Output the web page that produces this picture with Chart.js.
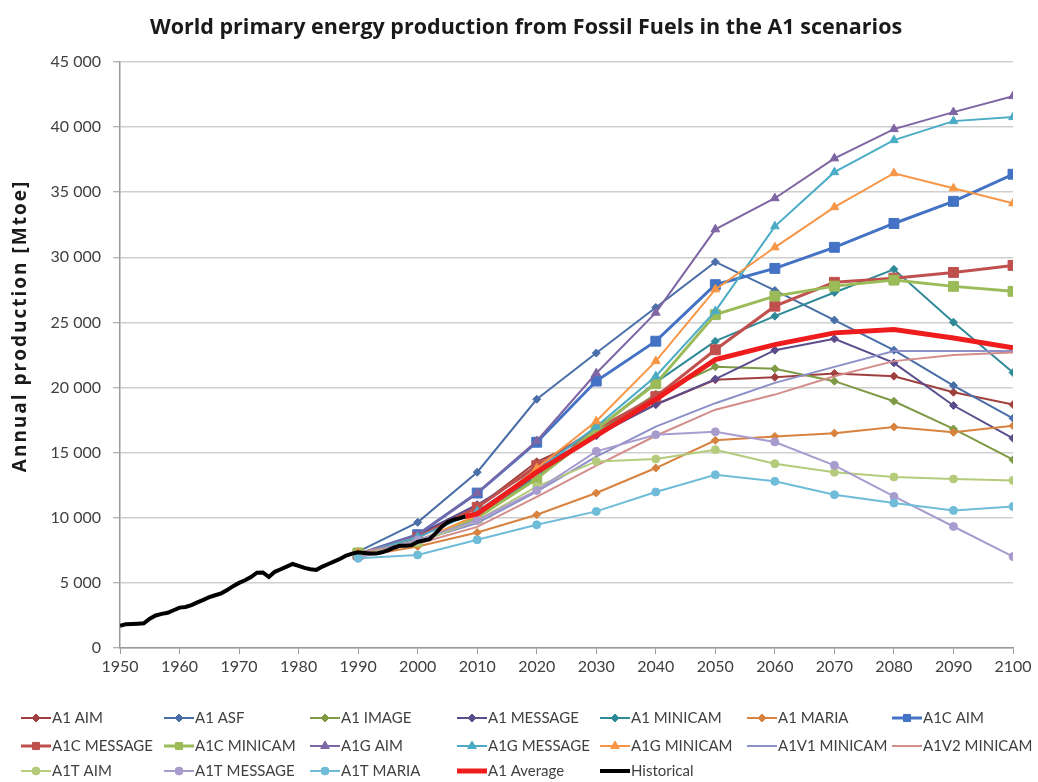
<!DOCTYPE html>
<html>
<head>
<meta charset="utf-8">
<script src="https://cdn.jsdelivr.net/npm/chart.js@4.4.1/dist/chart.umd.min.js"></script>
<style>
html,body{margin:0;padding:0;background:#fff;}
#wrap{width:1038px;height:782px;position:relative;}
</style>
</head>
<body>
<div id="wrap"><canvas id="c" width="1038" height="782"></canvas></div>
<script>
// ---- data ----
const chartTitle = "World primary energy production from Fossil Fuels in the A1 scenarios";
const yAxisTitle = "Annual production [Mtoe]";
const scenarioYears = [1990, 2000, 2010, 2020, 2030, 2040, 2050, 2060, 2070, 2080, 2090, 2100];

const a1Aim        = [7200, 8600, 10800, 14300, 16400, 18700, 20600, 20790, 21080, 20870, 19640, 18690];
const a1Asf        = [7400, 9650, 13500, 19100, 22650, 26150, 29650, 27460, 25180, 22870, 20150, 17640];
const a1Image      = [7100, 8100, 10000, 13000, 16500, 19500, 21600, 21440, 20490, 18950, 16820, 14460];
const a1Message    = [7200, 8700, 11000, 13800, 16300, 18700, 20650, 22870, 23740, 21900, 18620, 16100];
const a1Minicam    = [7300, 8200, 10000, 13200, 16800, 20400, 23560, 25480, 27300, 29080, 25020, 21150];
const a1Maria      = [7000, 7800, 8870, 10230, 11900, 13820, 15950, 16250, 16500, 16970, 16560, 17070];
const a1cAim       = [7200, 8700, 11900, 15800, 20500, 23560, 27900, 29150, 30770, 32600, 34300, 36380];
const a1cMessage   = [7200, 8500, 10800, 14000, 16800, 19300, 22900, 26250, 28080, 28400, 28840, 29380];
const a1cMinicam   = [7300, 8200, 10000, 13000, 16800, 20300, 25600, 27020, 27790, 28250, 27770, 27390];
const a1gAim       = [7200, 8700, 11900, 15900, 21100, 25750, 32150, 34540, 37600, 39850, 41150, 42380];
const a1gMessage   = [7200, 8500, 10500, 13600, 17000, 20870, 25870, 32380, 36540, 39000, 40460, 40770];
const a1gMinicam   = [7300, 8200, 10200, 13800, 17410, 22030, 27540, 30770, 33850, 36460, 35300, 34150];
const a1v1Minicam  = [7300, 8200, 9600, 12000, 14700, 17000, 18800, 20360, 21590, 22800, 22800, 22800];
const a1v2Minicam  = [7300, 8000, 9300, 11600, 14000, 16300, 18300, 19460, 20870, 22030, 22500, 22700];
const a1tAim       = [7100, 8100, 9800, 12400, 14330, 14510, 15230, 14150, 13490, 13130, 12980, 12870];
const a1tMessage   = [6900, 8300, 9800, 12100, 15100, 16380, 16600, 15820, 14030, 11640, 9330, 7020];
const a1tMaria     = [6900, 7150, 8310, 9460, 10490, 11980, 13300, 12800, 11770, 11130, 10560, 10870];

const averageYears = [2008, 2010, 2020, 2030, 2040, 2050, 2060, 2070, 2080, 2090, 2100];
const a1Average    = [10100, 10300, 13500, 16300, 19100, 22150, 23300, 24200, 24460, 23800, 23050];

const historicalStartYear = 1950;
const historical = [1700, 1830, 1850, 1870, 1900, 2250, 2500, 2620, 2700, 2900,
                    3100, 3150, 3300, 3500, 3700, 3900, 4050, 4200, 4450, 4750,
                    5000, 5200, 5450, 5780, 5800, 5450, 5850, 6050, 6250, 6450,
                    6300, 6150, 6050, 6000, 6250, 6450, 6650, 6850, 7100, 7250,
                    7350, 7300, 7250, 7250, 7350, 7500, 7700, 7850, 7850, 7900,
                    8150, 8250, 8350, 8800, 9300, 9650, 9850, 9950, 10100];

const yTicks = [0, 5000, 10000, 15000, 20000, 25000, 30000, 35000, 40000, 45000];
const xTicks = [1950, 1960, 1970, 1980, 1990, 2000, 2010, 2020, 2030, 2040, 2050, 2060, 2070, 2080, 2090, 2100];

// ---- series definitions ----
const series = [
  ["A1 AIM", a1Aim, "#a0403e", "rectRot", 4, 2],
  ["A1 ASF", a1Asf, "#4a6fa8", "rectRot", 4, 2],
  ["A1 IMAGE", a1Image, "#7f9a45", "rectRot", 4, 2],
  ["A1 MESSAGE", a1Message, "#5b4c8c", "rectRot", 4, 2],
  ["A1 MINICAM", a1Minicam, "#2f8a98", "rectRot", 4, 2],
  ["A1 MARIA", a1Maria, "#d7823e", "rectRot", 4, 2],
  ["A1C AIM", a1cAim, "#4472c4", "rect", 7, 3],
  ["A1C MESSAGE", a1cMessage, "#c0504d", "rect", 7, 3],
  ["A1C MINICAM", a1cMinicam, "#9bbb59", "rect", 7, 3],
  ["A1G AIM", a1gAim, "#7e65a3", "triangle", 5, 2],
  ["A1G MESSAGE", a1gMessage, "#4bacc6", "triangle", 5, 2],
  ["A1G MINICAM", a1gMinicam, "#f79646", "triangle", 5, 2],
  ["A1V1 MINICAM", a1v1Minicam, "#8c8fc8", false, 0, 2],
  ["A1V2 MINICAM", a1v2Minicam, "#d38d8b", false, 0, 2],
  ["A1T AIM", a1tAim, "#b5cb7c", "circle", 4, 2],
  ["A1T MESSAGE", a1tMessage, "#a89ccf", "circle", 4, 2],
  ["A1T MARIA", a1tMaria, "#6fbcd8", "circle", 4, 2]
];

const datasets = series.map((s, i) => ({
  label: s[0],
  data: scenarioYears.map((x, j) => ({x: x, y: s[1][j]})),
  borderColor: s[2],
  backgroundColor: s[2],
  pointStyle: s[3] || 'circle',
  pointRadius: s[3] ? s[4] : 0,
  pointBorderWidth: 1,
  borderWidth: s[5],
  tension: 0,
  order: 100 - i
}));
datasets.push({
  label: "A1 Average",
  data: averageYears.map((x, j) => ({x: x, y: a1Average[j]})),
  borderColor: "#ee1c1c", backgroundColor: "#ee1c1c",
  pointRadius: 0, borderWidth: 5, tension: 0, order: 1, legendLine: true
});
datasets.push({
  label: "Historical",
  data: historical.map((v, k) => ({x: historicalStartYear + k, y: v})),
  borderColor: "#000000", backgroundColor: "#000000",
  pointRadius: 0, borderWidth: 4, tension: 0, order: 0, legendLine: true
});

const FONT = "Lato, 'Open Sans', sans-serif";
const TFONT = "'Open Sans', Lato, sans-serif";
const fmt = v => String(v).replace(/\B(?=(\d{3})+(?!\d))/g, ' ');

const decorPlugin = {
  id: 'decor',
  afterDraw(chart) {
    const ctx = chart.ctx;
    ctx.save();
    // title
    ctx.fillStyle = '#1a1a1a';
    ctx.font = "bold 21.5px " + TFONT;
    ctx.textAlign = 'center';
    ctx.textBaseline = 'middle';
    ctx.fillText(chartTitle, 526, 28);
    // y axis title
    ctx.save();
    ctx.translate(21, 326);
    ctx.rotate(-Math.PI / 2);
    ctx.font = "bold 19px " + TFONT;
    try { ctx.letterSpacing = '2px'; } catch (e) {}
    ctx.fillText(yAxisTitle, 0, 0);
    try { ctx.letterSpacing = '0px'; } catch (e) {}
    ctx.restore();
    // legend
    const colX = [21, 164, 310, 457, 600, 747, 892];
    const rowY = [718, 746, 771];
    const metas = chart.data.datasets;
    metas.forEach((ds, i) => {
      const col = i % 7, row = Math.floor(i / 7);
      const x = colX[col], y = rowY[row];
      const lineLen = 30;
      ctx.strokeStyle = ds.borderColor;
      ctx.lineWidth = ds.legendLine ? (ds.borderWidth) : Math.max(2, ds.borderWidth);
      ctx.beginPath();
      ctx.moveTo(x, y);
      ctx.lineTo(x + lineLen, y);
      ctx.stroke();
      if (ds.pointRadius > 0) {
        ctx.fillStyle = ds.backgroundColor;
        ctx.strokeStyle = ds.borderColor;
        ctx.lineWidth = 1;
        Chart.helpers.drawPoint(ctx, {
          pointStyle: ds.pointStyle, radius: Math.min(ds.pointRadius, 5), borderWidth: 1, rotation: 0
        }, x + lineLen / 2, y);
      }
      ctx.fillStyle = '#404040';
      ctx.font = "15px " + FONT;
      ctx.textAlign = 'left';
      ctx.textBaseline = 'middle';
      ctx.fillText(ds.label, x + lineLen + 1, y);
    });
    ctx.restore();
  }
};

new Chart(document.getElementById('c'), {
  type: 'line',
  data: { datasets: datasets },
  options: {
    responsive: false,
    animation: false,
    events: [],
    layout: { padding: { top: 62, right: 25, bottom: 104, left: 0 } },
    plugins: { legend: { display: false }, title: { display: false }, tooltip: { enabled: false } },
    scales: {
      x: {
        type: 'linear', min: 1950, max: 2100,
        afterFit(s) { s.height = 30; },
        afterBuildTicks(s) { s.ticks = xTicks.map(v => ({value: v})); },
        ticks: { color: '#404040', font: { family: FONT, size: 16 }, padding: 3, callback: v => String(v), maxRotation: 0, autoSkip: false },
        grid: { drawOnChartArea: false, drawTicks: true, tickLength: 6, color: '#9a9a9a', lineWidth: 1 },
        border: { color: '#9a9a9a', width: 1.5 }
      },
      y: {
        min: 0, max: 45000,
        afterFit(s) { s.width = 120; },
        afterBuildTicks(s) { s.ticks = yTicks.map(v => ({value: v})); },
        ticks: { color: '#404040', font: { family: FONT, size: 16 }, padding: 12, callback: v => fmt(v) },
        grid: { color: '#cfcfcf', lineWidth: 1.5, tickLength: 7, tickColor: '#9a9a9a', tickWidth: 1 },
        border: { color: '#9a9a9a', width: 1.5 }
      }
    }
  },
  plugins: [decorPlugin]
});
</script>
</body>
</html>
